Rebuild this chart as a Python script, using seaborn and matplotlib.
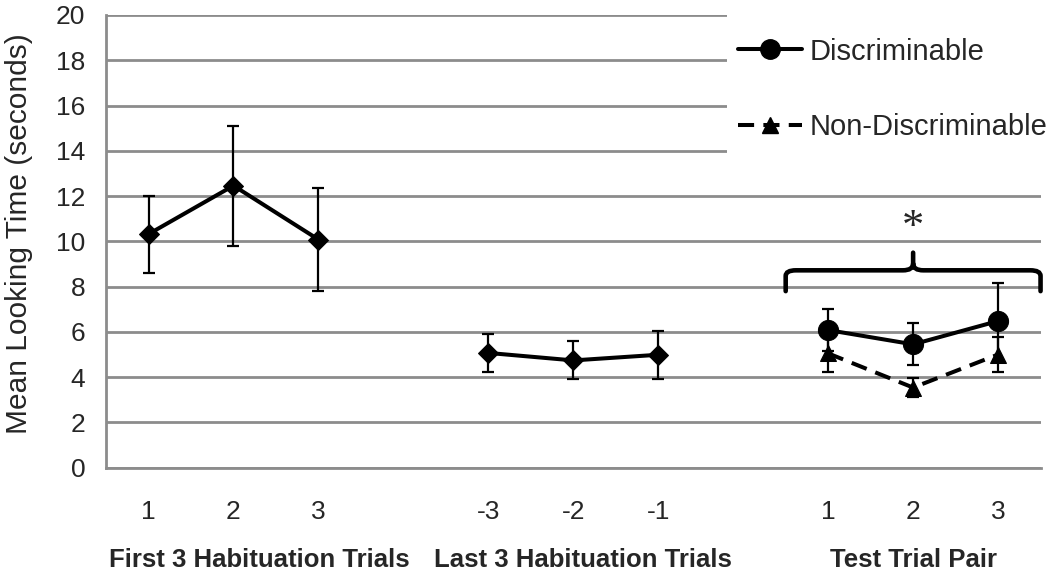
import numpy as np
import pandas as pd
import matplotlib
matplotlib.use("Agg")
import matplotlib.pyplot as plt
from matplotlib.path import Path
from matplotlib.patches import PathPatch, Rectangle
from matplotlib.lines import Line2D
import seaborn as sns

# Dados
tick_labels = ["1", "2", "3", "", "-3", "-2", "-1", "", "1", "2", "3"]
group_labels = ["First 3 Habituation Trials", "Last 3 Habituation Trials", "Test Trial Pair"]

hab_first_pos = [0, 1, 2]
hab_first_mean = [10.32, 12.46, 10.08]
hab_first_err = [1.70, 2.65, 2.27]

hab_last_pos = [4, 5, 6]
hab_last_mean = [5.07, 4.74, 4.99]
hab_last_err = [0.83, 0.84, 1.05]

test_pos = [8, 9, 10]
disc_mean = [6.08, 5.45, 6.48]
disc_err = [0.92, 0.93, 1.70]
nondisc_mean = [5.05, 3.54, 5.00]
nondisc_err = [0.82, 0.42, 0.78]

sns.set_style("white")
plt.rcParams["font.family"] = ["Liberation Sans", "DejaVu Sans"]

GRID = "#8c8c8c"
DASH = (0, (4, 2.3))

fig = plt.figure(figsize=(10.5, 5.76), dpi=100)
ax = fig.add_axes([0.101, 0.188, 0.890, 0.786])

df = pd.concat([
    pd.DataFrame({"pos": hab_first_pos, "mean": hab_first_mean, "err": hab_first_err, "serie": "hab1"}),
    pd.DataFrame({"pos": hab_last_pos, "mean": hab_last_mean, "err": hab_last_err, "serie": "hab2"}),
    pd.DataFrame({"pos": test_pos, "mean": disc_mean, "err": disc_err, "serie": "disc"}),
    pd.DataFrame({"pos": test_pos, "mean": nondisc_mean, "err": nondisc_err, "serie": "nondisc"}),
])

estilos = {
    "hab1": dict(marker="D", ls="-", ms=10),
    "hab2": dict(marker="D", ls="-", ms=10),
    "disc": dict(marker="o", ls="-", ms=14.5),
    "nondisc": dict(marker="^", ls=DASH, ms=12),
}

for serie, st in estilos.items():
    d = df[df["serie"] == serie]
    ax.errorbar(d["pos"], d["mean"], yerr=d["err"], fmt="none", ecolor="black",
                elinewidth=1.6, capsize=4.5, capthick=1.6, zorder=3)
    sns.lineplot(data=d, x="pos", y="mean", ax=ax, color="black", lw=2.9,
                 linestyle=st["ls"], marker=st["marker"], markersize=st["ms"],
                 markeredgecolor="black", markerfacecolor="black", zorder=4)

# Eixos
ax.set_xlim(-0.5, 10.5)
ax.set_ylim(0, 20)
ax.set_yticks(np.arange(0, 21, 2))
ax.set_xticks(range(len(tick_labels)))
ax.set_xticklabels(tick_labels)
ax.set_xticks(np.arange(-0.5, 11, 1), minor=True)
ax.tick_params(axis="x", which="major", length=0, pad=23, labelsize=19)
ax.tick_params(axis="x", which="minor", length=4.5, width=2, color=GRID, direction="out")
ax.tick_params(axis="y", length=5.8, width=2, color=GRID, direction="out", labelsize=19, pad=9)
ax.yaxis.grid(True, color=GRID, lw=2)
ax.set_axisbelow(True)
for s in ["top", "right"]:
    ax.spines[s].set_visible(False)
for s in ["left", "bottom"]:
    ax.spines[s].set_color(GRID)
    ax.spines[s].set_linewidth(2)
ax.set_xlabel("")
ax.set_ylabel("")
fig.text(19 / 1050, 1 - 234 / 576, "Mean Looking Time (seconds)", rotation=90,
         ha="center", va="center", fontsize=21.5)

# Rótulos de grupo
grupo_x = [1.30, 5.11, 9.0]
for gx, lab in zip(grupo_x, group_labels):
    ax.text(gx, -0.203, lab, transform=ax.get_xaxis_transform(), ha="center", va="center",
            fontsize=18.5, fontweight="bold")

# Chave com asterisco
L, R, M = 7.5, 10.5, 9.0
y0, y1, y2 = 7.8, 8.72, 9.5
r = 0.12
verts = [(L, y0), (L, y1 - 0.25), (L, y1), (L + r, y1), (M - r, y1), (M, y1), (M, y1 + 0.3), (M, y2),
         (M, y1 + 0.3), (M, y1), (M + r, y1), (R - r, y1), (R, y1), (R, y1 - 0.25), (R, y0)]
codes = [Path.MOVETO, Path.LINETO, Path.CURVE3, Path.CURVE3, Path.LINETO, Path.CURVE3, Path.CURVE3,
         Path.LINETO, Path.MOVETO, Path.CURVE3, Path.CURVE3, Path.LINETO, Path.CURVE3, Path.CURVE3, Path.LINETO]
ax.add_patch(PathPatch(Path(verts, codes), fill=False, lw=3.3, edgecolor="black", clip_on=False,
                       capstyle="round", zorder=5))
ax.text(M, 10.6, "*", ha="center", va="center", fontsize=32, family="Liberation Serif")

# Fundo branco da legenda (cobre a grade)
ax.add_patch(Rectangle((0.665, 0.645), 0.4, 0.4, transform=ax.transAxes, facecolor="white",
                       edgecolor="none", clip_on=False, zorder=1))

# Legenda
handles = [
    Line2D([], [], color="black", lw=2.9, marker="o", ms=14),
    Line2D([], [], color="black", lw=2.9, ls=DASH, marker="^", ms=12),
]
leg = ax.legend(handles, ["Discriminable", "Non-Discriminable"], loc="upper left",
                bbox_to_anchor=(0.676, 0.95), frameon=False, fontsize=21, labelspacing=1.62,
                handlelength=2.2, handletextpad=0.25, borderpad=0, borderaxespad=0)
leg.set_zorder(6)

fig.savefig("out.png", dpi=100)
